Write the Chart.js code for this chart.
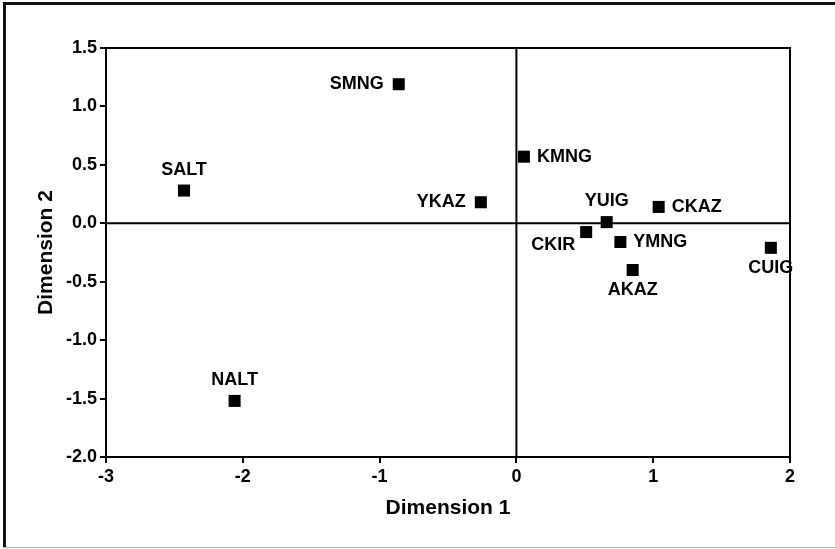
<!DOCTYPE html>
<html>
<head>
<meta charset="utf-8">
<script src="https://cdn.jsdelivr.net/npm/chart.js@4/dist/chart.umd.min.js"></script>
<style>
  html, body { margin: 0; padding: 0; background: #fff; }
  #wrap { width: 835px; height: 549px; position: relative; }
</style>
</head>
<body>
<div id="wrap"><canvas id="mds"></canvas></div>
<script>
// site codes and their coordinates on the two dimensions
const sites = ["SMNG", "KMNG", "SALT", "YKAZ", "YUIG", "CKAZ", "CKIR", "YMNG", "AKAZ", "CUIG", "NALT"];
const dim1 = [-0.86, 0.055, -2.43, -0.26, 0.66, 1.04, 0.51, 0.76, 0.85, 1.86, -2.06];
const dim2 = [1.19, 0.57, 0.28, 0.18, 0.01, 0.14, -0.075, -0.16, -0.40, -0.21, -1.52];
// which side of the square the name goes
const labelSide = ["left", "right", "above", "left", "above", "right", "belowLeft", "right", "below", "below", "above"];

const xTicks = [-3, -2, -1, 0, 1, 2];
const yTicks = [-2.0, -1.5, -1.0, -0.5, 0.0, 0.5, 1.0, 1.5];

const FONT = "'Liberation Sans', Arial, sans-serif";

const points = sites.map((s, i) => ({ x: dim1[i], y: dim2[i] }));

// white page with the scanned frame lines
const framePlugin = {
  id: "frame",
  beforeDraw(chart) {
    const ctx = chart.ctx;
    ctx.save();
    ctx.fillStyle = "#fff";
    ctx.fillRect(0, 0, chart.width, chart.height);
    ctx.fillStyle = "#111";
    ctx.fillRect(3, 2, 3, chart.height - 3);
    ctx.fillRect(3, 2, chart.width - 3, 3);
    ctx.fillStyle = "#b0b0b0";
    ctx.fillRect(3, chart.height - 2, chart.width - 3, 1);
    ctx.restore();
  }
};

// box around the plot and the two zero lines
const boxPlugin = {
  id: "box",
  beforeDatasetsDraw(chart) {
    const { ctx, chartArea: a, scales } = chart;
    const x0 = scales.x.getPixelForValue(0);
    const y0 = scales.y.getPixelForValue(0);
    ctx.save();
    ctx.strokeStyle = "#000";
    ctx.lineWidth = 2;
    ctx.beginPath();
    ctx.moveTo(a.left, a.top);
    ctx.lineTo(a.right, a.top);
    ctx.lineTo(a.right, a.bottom);
    ctx.moveTo(x0, a.top);
    ctx.lineTo(x0, a.bottom);
    ctx.moveTo(a.left, y0);
    ctx.lineTo(a.right, y0);
    ctx.stroke();
    ctx.restore();
  }
};

// names next to the squares
const namePlugin = {
  id: "names",
  afterDatasetsDraw(chart) {
    const ctx = chart.ctx;
    const meta = chart.getDatasetMeta(0);
    ctx.save();
    ctx.fillStyle = "#000";
    ctx.font = "bold 18px " + FONT;
    ctx.textBaseline = "middle";
    meta.data.forEach((pt, i) => {
      let x = pt.x, y = pt.y;
      const side = labelSide[i];
      if (side === "left") { ctx.textAlign = "right"; x -= 15; }
      else if (side === "right") { ctx.textAlign = "left"; x += 13; }
      else if (side === "above") { ctx.textAlign = "center"; y -= 21; }
      else if (side === "below") { ctx.textAlign = "center"; y += 20; }
      else { ctx.textAlign = "right"; x -= 11; y += 13; }
      ctx.fillText(sites[i], x, y);
    });
    ctx.restore();
  }
};

new Chart(document.getElementById("mds"), {
  type: "scatter",
  data: {
    datasets: [{
      data: points,
      pointStyle: "rect",
      pointRadius: 8.5,
      pointHoverRadius: 8.5,
      backgroundColor: "#000",
      borderWidth: 0
    }]
  },
  options: {
    responsive: true,
    maintainAspectRatio: false,
    animation: false,
    events: [],
    layout: { padding: { left: 0, top: 48, right: 45, bottom: 0 } },
    plugins: {
      legend: { display: false },
      tooltip: { enabled: false }
    },
    scales: {
      x: {
        type: "linear",
        min: xTicks[0],
        max: xTicks[xTicks.length - 1],
        afterBuildTicks(s) { s.ticks = xTicks.map(v => ({ value: v })); },
        afterFit(s) { s.height = 92; },
        ticks: {
          color: "#000",
          padding: 3,
          font: { family: FONT, size: 18, weight: "bold" },
          callback: v => String(v)
        },
        grid: { drawOnChartArea: false, tickLength: 6, color: "#000", lineWidth: 2 },
        border: { color: "#000", width: 2 },
        title: {
          display: true,
          text: "Dimension 1",
          color: "#000",
          font: { family: FONT, size: 21, weight: "bold" },
          padding: { top: 0, bottom: 28 }
        }
      },
      y: {
        type: "linear",
        min: yTicks[0],
        max: yTicks[yTicks.length - 1],
        afterBuildTicks(s) { s.ticks = yTicks.map(v => ({ value: v })); },
        afterFit(s) { s.width = 106; },
        ticks: {
          color: "#000",
          padding: 3,
          font: { family: FONT, size: 18, weight: "bold" },
          callback: v => Number(v).toFixed(1)
        },
        grid: { drawOnChartArea: false, tickLength: 6, color: "#000", lineWidth: 2 },
        border: { color: "#000", width: 2 },
        title: {
          display: true,
          text: "Dimension 2",
          color: "#000",
          font: { family: FONT, size: 21, weight: "bold" },
          padding: { top: 34, bottom: 0 }
        }
      }
    }
  },
  plugins: [framePlugin, boxPlugin, namePlugin]
});
</script>
</body>
</html>
